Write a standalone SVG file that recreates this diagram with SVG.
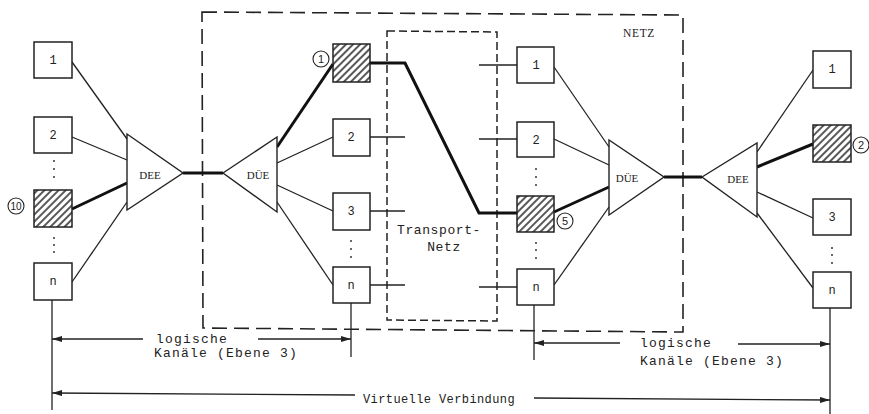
<svg xmlns="http://www.w3.org/2000/svg" width="869" height="414" viewBox="0 0 869 414">
  <defs>
    <pattern id="hatch" patternUnits="userSpaceOnUse" width="5" height="5" patternTransform="rotate(45)">
      <line x1="1" y1="0" x2="1" y2="5" stroke="#111" stroke-width="1.4"/>
    </pattern>
    <marker id="arr" viewBox="0 0 10 6" refX="10" refY="3" markerWidth="10" markerHeight="6" markerUnits="userSpaceOnUse" orient="auto">
      <path d="M0,0 L10,3 L0,6 Z" fill="#222"/>
    </marker>
  </defs>
  <style>
    .box { fill: #fff; stroke: #222; stroke-width: 1.5; }
    .hbox { fill: url(#hatch); stroke: #222; stroke-width: 1.5; }
    .tri { fill: #fff; stroke: #222; stroke-width: 1.4; }
    .thin { stroke: #222; stroke-width: 1.3; fill: none; }
    .thick { stroke: #111; stroke-width: 3; fill: none; }
    .dash1 { stroke: #222; stroke-width: 1.6; fill: none; stroke-dasharray: 15 7; }
    .dash2 { stroke: #222; stroke-width: 1.5; fill: none; stroke-dasharray: 8 4; }
    .num { font-family: "Liberation Mono", monospace; font-size: 12px; text-anchor: middle; fill: #222; }
    .tag { font-family: "Liberation Serif", serif; font-size: 11px; text-anchor: middle; fill: #222; }
    .mono { font-family: "Liberation Mono", monospace; font-size: 13px; letter-spacing: 1.2px; fill: #222; }
    .ring { fill: #fff; stroke: #222; stroke-width: 1.1; }
    .rnum { font-family: "Liberation Sans", sans-serif; font-size: 11px; text-anchor: middle; fill: #222; }
  </style>
  <rect width="869" height="414" fill="#fff"/>

  <!-- network boundaries -->
  <g id="netz">
    <path class="dash1" d="M202,12 L683,15 L683,332 L203,328 Z"/>
    <text class="tag" x="639" y="37" style="letter-spacing:0.6px;font-size:11.5px">NETZ</text>
  </g>
  <g id="transportnetz">
    <path class="dash2" d="M387,31 L497,32 L497,321 L387,320 Z"/>
    <text class="mono" x="439" y="234" text-anchor="middle" style="letter-spacing:0.6px">Transport-</text>
    <text class="mono" x="444" y="251" text-anchor="middle" style="letter-spacing:0.6px">Netz</text>
  </g>

  <!-- connectors -->
  <g id="connectors">
    <line class="thin" x1="72" y1="62" x2="127" y2="139"/>
    <line class="thin" x1="72" y1="137" x2="127" y2="160"/>
    <line class="thick" x1="72" y1="209" x2="127" y2="183"/>
    <line class="thin" x1="72" y1="282" x2="127" y2="202"/>
    <line class="thick" x1="183" y1="173" x2="223" y2="173"/>
    <line class="thick" x1="277" y1="147" x2="333" y2="64"/>
    <line class="thin" x1="277" y1="163" x2="333" y2="137"/>
    <line class="thin" x1="277" y1="185" x2="333" y2="211"/>
    <line class="thin" x1="277" y1="202" x2="333" y2="285"/>
    <line class="thin" x1="370" y1="137" x2="405" y2="137"/>
    <line class="thin" x1="370" y1="211" x2="405" y2="211"/>
    <line class="thin" x1="370" y1="285" x2="405" y2="285"/>
    <path class="thick" d="M370,63 H405 L479,213 H517"/>
    <line class="thin" x1="479" y1="65" x2="517" y2="65"/>
    <line class="thin" x1="479" y1="139" x2="517" y2="139"/>
    <line class="thin" x1="479" y1="287" x2="517" y2="287"/>
    <line class="thin" x1="554" y1="67" x2="609" y2="147"/>
    <line class="thin" x1="554" y1="139" x2="609" y2="165"/>
    <line class="thick" x1="554" y1="212" x2="609" y2="187"/>
    <line class="thin" x1="554" y1="285" x2="609" y2="207"/>
    <line class="thick" x1="664" y1="177" x2="702" y2="177"/>
    <line class="thin" x1="757" y1="152" x2="813" y2="70"/>
    <line class="thick" x1="757" y1="167" x2="813" y2="144"/>
    <line class="thin" x1="757" y1="192" x2="813" y2="218"/>
    <line class="thin" x1="757" y1="213" x2="813" y2="288"/>
    <!-- extension lines and dimension arrows -->
    <line class="thin" x1="52" y1="300" x2="52" y2="410"/>
    <line class="thin" x1="351" y1="303" x2="351" y2="357"/>
    <line class="thin" x1="534" y1="305" x2="534" y2="360"/>
    <line class="thin" x1="830" y1="308" x2="830" y2="414"/>
    <line class="thin" x1="143" y1="339" x2="52" y2="339" marker-end="url(#arr)"/>
    <line class="thin" x1="258" y1="339" x2="351" y2="339" marker-end="url(#arr)"/>
    <line class="thin" x1="620" y1="343" x2="534" y2="343" marker-end="url(#arr)"/>
    <line class="thin" x1="738" y1="344" x2="830" y2="344" marker-end="url(#arr)"/>
    <line class="thin" x1="355" y1="395" x2="52" y2="393" marker-end="url(#arr)"/>
    <line class="thin" x1="534" y1="398" x2="830" y2="400" marker-end="url(#arr)"/>
  </g>

  <!-- dimension labels -->
  <g id="labels">
    <text class="mono" x="156" y="343">logische</text>
    <text class="mono" x="154" y="357">Kanäle (Ebene 3)</text>
    <text class="mono" x="640" y="347">logische</text>
    <text class="mono" x="640" y="365">Kanäle (Ebene 3)</text>
    <text class="mono" x="363" y="403" style="font-size:12px;letter-spacing:0.4px">Virtuelle Verbindung</text>
  </g>

  <!-- left terminal column -->
  <g id="a1"><rect class="box" x="34" y="42" width="38" height="36"/><text class="num" x="53" y="64">1</text></g>
  <g id="a2"><rect class="box" x="34" y="117" width="38" height="36"/><text class="num" x="53" y="139">2</text></g>
  <g id="a10"><rect class="hbox" x="34" y="190" width="38" height="37"/><circle class="ring" cx="16" cy="206" r="8"/><text class="rnum" x="16" y="210" style="font-size:10px">10</text></g>
  <g id="an"><rect class="box" x="34" y="263" width="38" height="37"/><text class="num" x="53" y="285">n</text></g>
  <g id="dots-a" fill="#222"><circle cx="54" cy="161" r="0.9"/><circle cx="54" cy="169" r="0.9"/><circle cx="54" cy="177" r="0.9"/><circle cx="54" cy="238" r="0.9"/><circle cx="54" cy="245" r="0.9"/><circle cx="54" cy="252" r="0.9"/></g>
  <g id="dee-left"><polygon class="tri" points="127,134 127,210 183,173"/><text class="tag" x="150" y="179">DEE</text></g>

  <!-- network entry, left -->
  <g id="due-left"><polygon class="tri" points="223,173 277,137 277,212"/><text class="tag" x="258" y="179">DÜE</text></g>
  <g id="b1"><rect class="hbox" x="333" y="44" width="37" height="38"/><circle class="ring" cx="321" cy="59" r="8"/><text class="rnum" x="321" y="63">1</text></g>
  <g id="b2"><rect class="box" x="333" y="119" width="37" height="37"/><text class="num" x="351" y="141">2</text></g>
  <g id="b3"><rect class="box" x="333" y="193" width="37" height="37"/><text class="num" x="351" y="215">3</text></g>
  <g id="bn"><rect class="box" x="333" y="267" width="37" height="36"/><text class="num" x="351" y="289">n</text></g>
  <g id="dots-b" fill="#222"><circle cx="351" cy="241" r="0.9"/><circle cx="351" cy="249" r="0.9"/><circle cx="351" cy="257" r="0.9"/></g>

  <!-- network exit, right -->
  <g id="c1"><rect class="box" x="517" y="47" width="37" height="36"/><text class="num" x="536" y="69">1</text></g>
  <g id="c2"><rect class="box" x="517" y="122" width="37" height="35"/><text class="num" x="536" y="144">2</text></g>
  <g id="c5"><rect class="hbox" x="517" y="196" width="37" height="36"/><circle class="ring" cx="565" cy="221" r="8"/><text class="rnum" x="565" y="225">5</text></g>
  <g id="cn"><rect class="box" x="517" y="269" width="37" height="36"/><text class="num" x="536" y="291">n</text></g>
  <g id="dots-c" fill="#222"><circle cx="536" cy="169" r="0.9"/><circle cx="536" cy="177" r="0.9"/><circle cx="536" cy="185" r="0.9"/><circle cx="536" cy="243" r="0.9"/><circle cx="536" cy="250" r="0.9"/><circle cx="536" cy="258" r="0.9"/></g>
  <g id="due-right"><polygon class="tri" points="609,140 609,215 664,177"/><text class="tag" x="627" y="182">DÜE</text></g>

  <!-- right terminal column -->
  <g id="dee-right"><polygon class="tri" points="702,177 757,143 757,217"/><text class="tag" x="738" y="183">DEE</text></g>
  <g id="d1"><rect class="box" x="813" y="51" width="38" height="37"/><text class="num" x="832" y="73">1</text></g>
  <g id="d2"><rect class="hbox" x="813" y="125" width="38" height="37"/><circle class="ring" cx="861" cy="145" r="8"/><text class="rnum" x="861" y="149">2</text></g>
  <g id="d3"><rect class="box" x="813" y="199" width="38" height="36"/><text class="num" x="832" y="221">3</text></g>
  <g id="dn"><rect class="box" x="813" y="272" width="38" height="36"/><text class="num" x="832" y="294">n</text></g>
  <g id="dots-d" fill="#222"><circle cx="832" cy="248" r="0.9"/><circle cx="832" cy="255" r="0.9"/><circle cx="832" cy="263" r="0.9"/></g>
</svg>
